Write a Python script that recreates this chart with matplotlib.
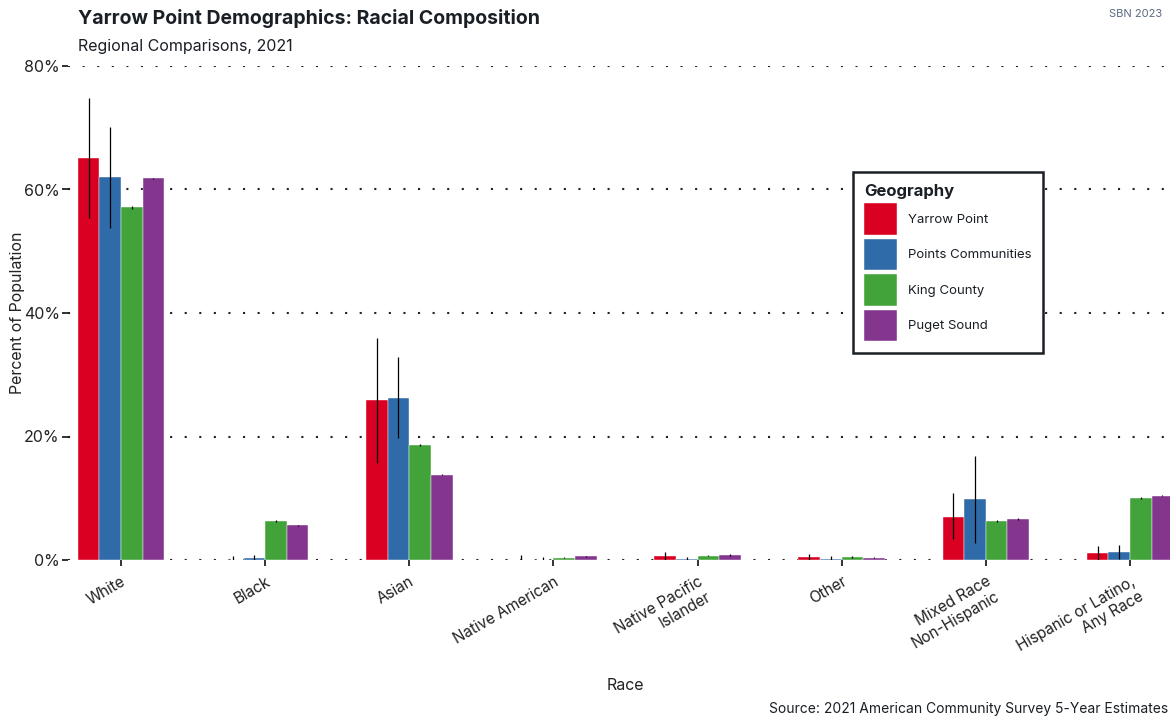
import numpy as np
import matplotlib.pyplot as plt

plt.rcParams['font.family'] = ['Inter', 'DejaVu Sans']

races = ['White', 'Black', 'Asian', 'Native American', 'Native Pacific\nIslander',
         'Other', 'Mixed Race\nNon-Hispanic', 'Hispanic or Latino,\nAny Race']
geos = ['Yarrow Point', 'Points Communities', 'King County', 'Puget Sound']
colors = ['#DA0021', '#2F6BA9', '#43A33B', '#84368F']

# percent of population
yarrow = [65.1, 0.0, 25.9, 0.0, 0.6, 0.5, 7.0, 1.1]
points = [62.0, 0.3, 26.2, 0.0, 0.1, 0.2, 9.9, 1.3]
king = [57.1, 6.3, 18.6, 0.4, 0.7, 0.5, 6.3, 10.0]
puget = [61.8, 5.6, 13.8, 0.6, 0.8, 0.4, 6.6, 10.4]

# margin of error bounds (low, high)
yarrow_lo = [55.4, 0.0, 15.7, 0.0, 0.0, 0.0, 3.4, 0.0]
yarrow_hi = [74.8, 0.6, 36.0, 0.8, 1.3, 1.0, 10.8, 2.3]
points_lo = [53.8, 0.0, 19.8, 0.0, 0.0, 0.0, 2.7, 0.2]
points_hi = [70.1, 0.8, 32.9, 0.5, 0.5, 0.7, 16.9, 2.4]
king_lo = [56.9, 6.1, 18.4, 0.3, 0.6, 0.4, 6.1, 9.8]
king_hi = [57.3, 6.5, 18.8, 0.5, 0.8, 0.6, 6.5, 10.2]
puget_lo = [61.7, 5.5, 13.7, 0.5, 0.7, 0.3, 6.4, 10.3]
puget_hi = [61.9, 5.7, 13.9, 0.7, 0.9, 0.5, 6.8, 10.5]

vals = [yarrow, points, king, puget]
los = [yarrow_lo, points_lo, king_lo, puget_lo]
his = [yarrow_hi, points_hi, king_hi, puget_hi]

fig = plt.figure(figsize=(11.75, 7.19), dpi=100)
ax = fig.add_axes([68 / 1175, 1 - 560 / 719, (1170 - 68) / 1175, (560 - 66) / 719])

x = np.arange(len(races))
w = 0.15
for i in range(4):
    xs = x + (i - 1.5) * w
    ax.bar(xs, vals[i], width=w, color=colors[i], edgecolor='white', linewidth=0.3,
           label=geos[i], zorder=2)
    ax.vlines(xs, los[i], his[i], color='black', linewidth=0.9, zorder=3)

ax.set_xlim(-0.368, 7.278)
ax.set_ylim(0, 80)
ax.set_yticks([0, 20, 40, 60, 80])
ax.set_yticklabels(['0%', '20%', '40%', '60%', '80%'], fontsize=11.5, color='#222222')
ax.set_xticks(x)
ax.set_xticklabels(races, rotation=30, ha='right', rotation_mode='anchor',
                   fontsize=11, color='#222222', multialignment='right')
ax.tick_params(axis='both', length=4, width=1.3, color='#222222')
ax.tick_params(axis='y', pad=2)
ax.tick_params(axis='x', pad=6)
for s in ax.spines.values():
    s.set_visible(False)
ax.yaxis.grid(True, linestyle=(0, (1, 6)), color='#222222', linewidth=1.5, zorder=0)
ax.set_axisbelow(True)

fig.text(18 / 1175, 1 - 313 / 719, 'Percent of Population', fontsize=11.5,
         color='#222222', rotation=90, ha='center', va='center')
fig.text(625 / 1175, 1 - 686 / 719, 'Race', fontsize=11.5, color='#222222',
         ha='center', va='center')

fig.text(78 / 1175, 1 - 18 / 719, 'Yarrow Point Demographics: Racial Composition',
         fontsize=14, fontweight='bold', color='#1a1f26', va='center')
fig.text(78 / 1175, 1 - 46 / 719, 'Regional Comparisons, 2021',
         fontsize=11.5, color='#1a1f26', va='center')
fig.text(1162 / 1175, 1 - 14 / 719, 'SBN 2023', fontsize=8, color='#5a6a80',
         ha='right', va='center')
fig.text(1168 / 1175, 1 - 709 / 719, 'Source: 2021 American Community Survey 5-Year Estimates',
         fontsize=10, color='#1a1f26', ha='right', va='center')

leg = ax.legend(title='Geography', loc='upper left', bbox_to_anchor=(0.712, 0.785),
                fontsize=9.5, title_fontsize=12, frameon=True, fancybox=False,
                handlelength=2.5, handleheight=3.3, labelspacing=0.3,
                handletextpad=0.8, borderpad=0.9, borderaxespad=0)
leg.get_frame().set_edgecolor('#1a1f26')
leg.get_frame().set_linewidth(1.8)
leg.get_frame().set_alpha(1)
leg._legend_box.align = 'left'
leg.get_title().set_fontweight('bold')
leg.get_title().set_color('#1a1f26')
for t in leg.get_texts():
    t.set_color('#1a1f26')

plt.savefig('out.png', dpi=100)
